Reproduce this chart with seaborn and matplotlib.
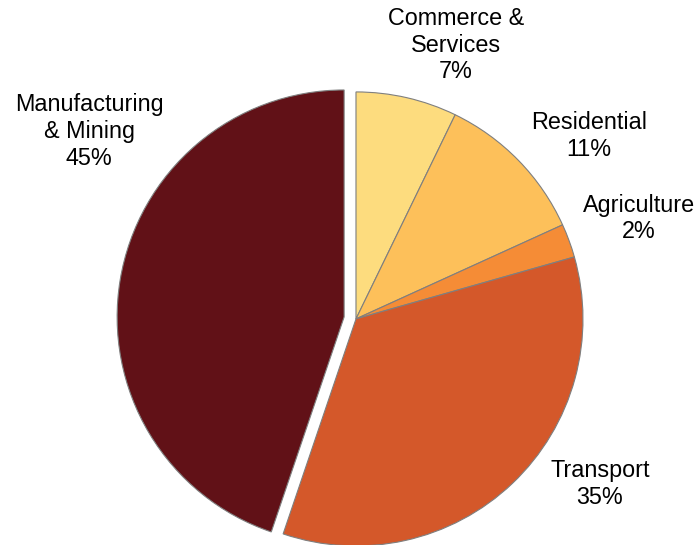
import matplotlib
matplotlib.use("Agg")
import matplotlib.pyplot as plt
import seaborn as sns

sns.set_theme(style="white")
plt.rcParams['font.family'] = ['Liberation Sans', 'DejaVu Sans']

# Data
categories = ["Commerce &\nServices", "Residential", "Agriculture", "Transport", "Manufacturing\n& Mining"]
shares = [7.2, 11.0, 2.4, 34.6, 44.8]
colors = ["#FDDC7E", "#FDC05A", "#F58C36", "#D4582A", "#611117"]
explode = [0, 0, 0, 0, 0.053]

# label positions (in pie-radius units)
label_pos = [(0.441, 1.205), (1.026, 0.805), (1.247, 0.442), (1.075, -0.728), (-1.176, 0.826)]

fig = plt.figure(figsize=(6.97, 5.45), dpi=100)
ax = fig.add_axes([0, 0, 1, 1])
ax.pie(shares, colors=colors, explode=explode, startangle=90, counterclock=False,
       radius=1.0, center=(0, 0),
       wedgeprops=dict(edgecolor="#7f7f7f", linewidth=0.8))

for cat, val, (x, y) in zip(categories, shares, label_pos):
    ax.text(x, y, f"{cat}\n{val:.0f}%", ha="center", va="center", multialignment="center",
            fontsize=16.8, linespacing=1.2, color="black")

ax.set_xlim(-1.568, 1.502)
ax.set_ylim(-0.996, 1.405)
ax.set_aspect("equal")
ax.axis("off")

fig.savefig("out.png", dpi=100, facecolor="white")
